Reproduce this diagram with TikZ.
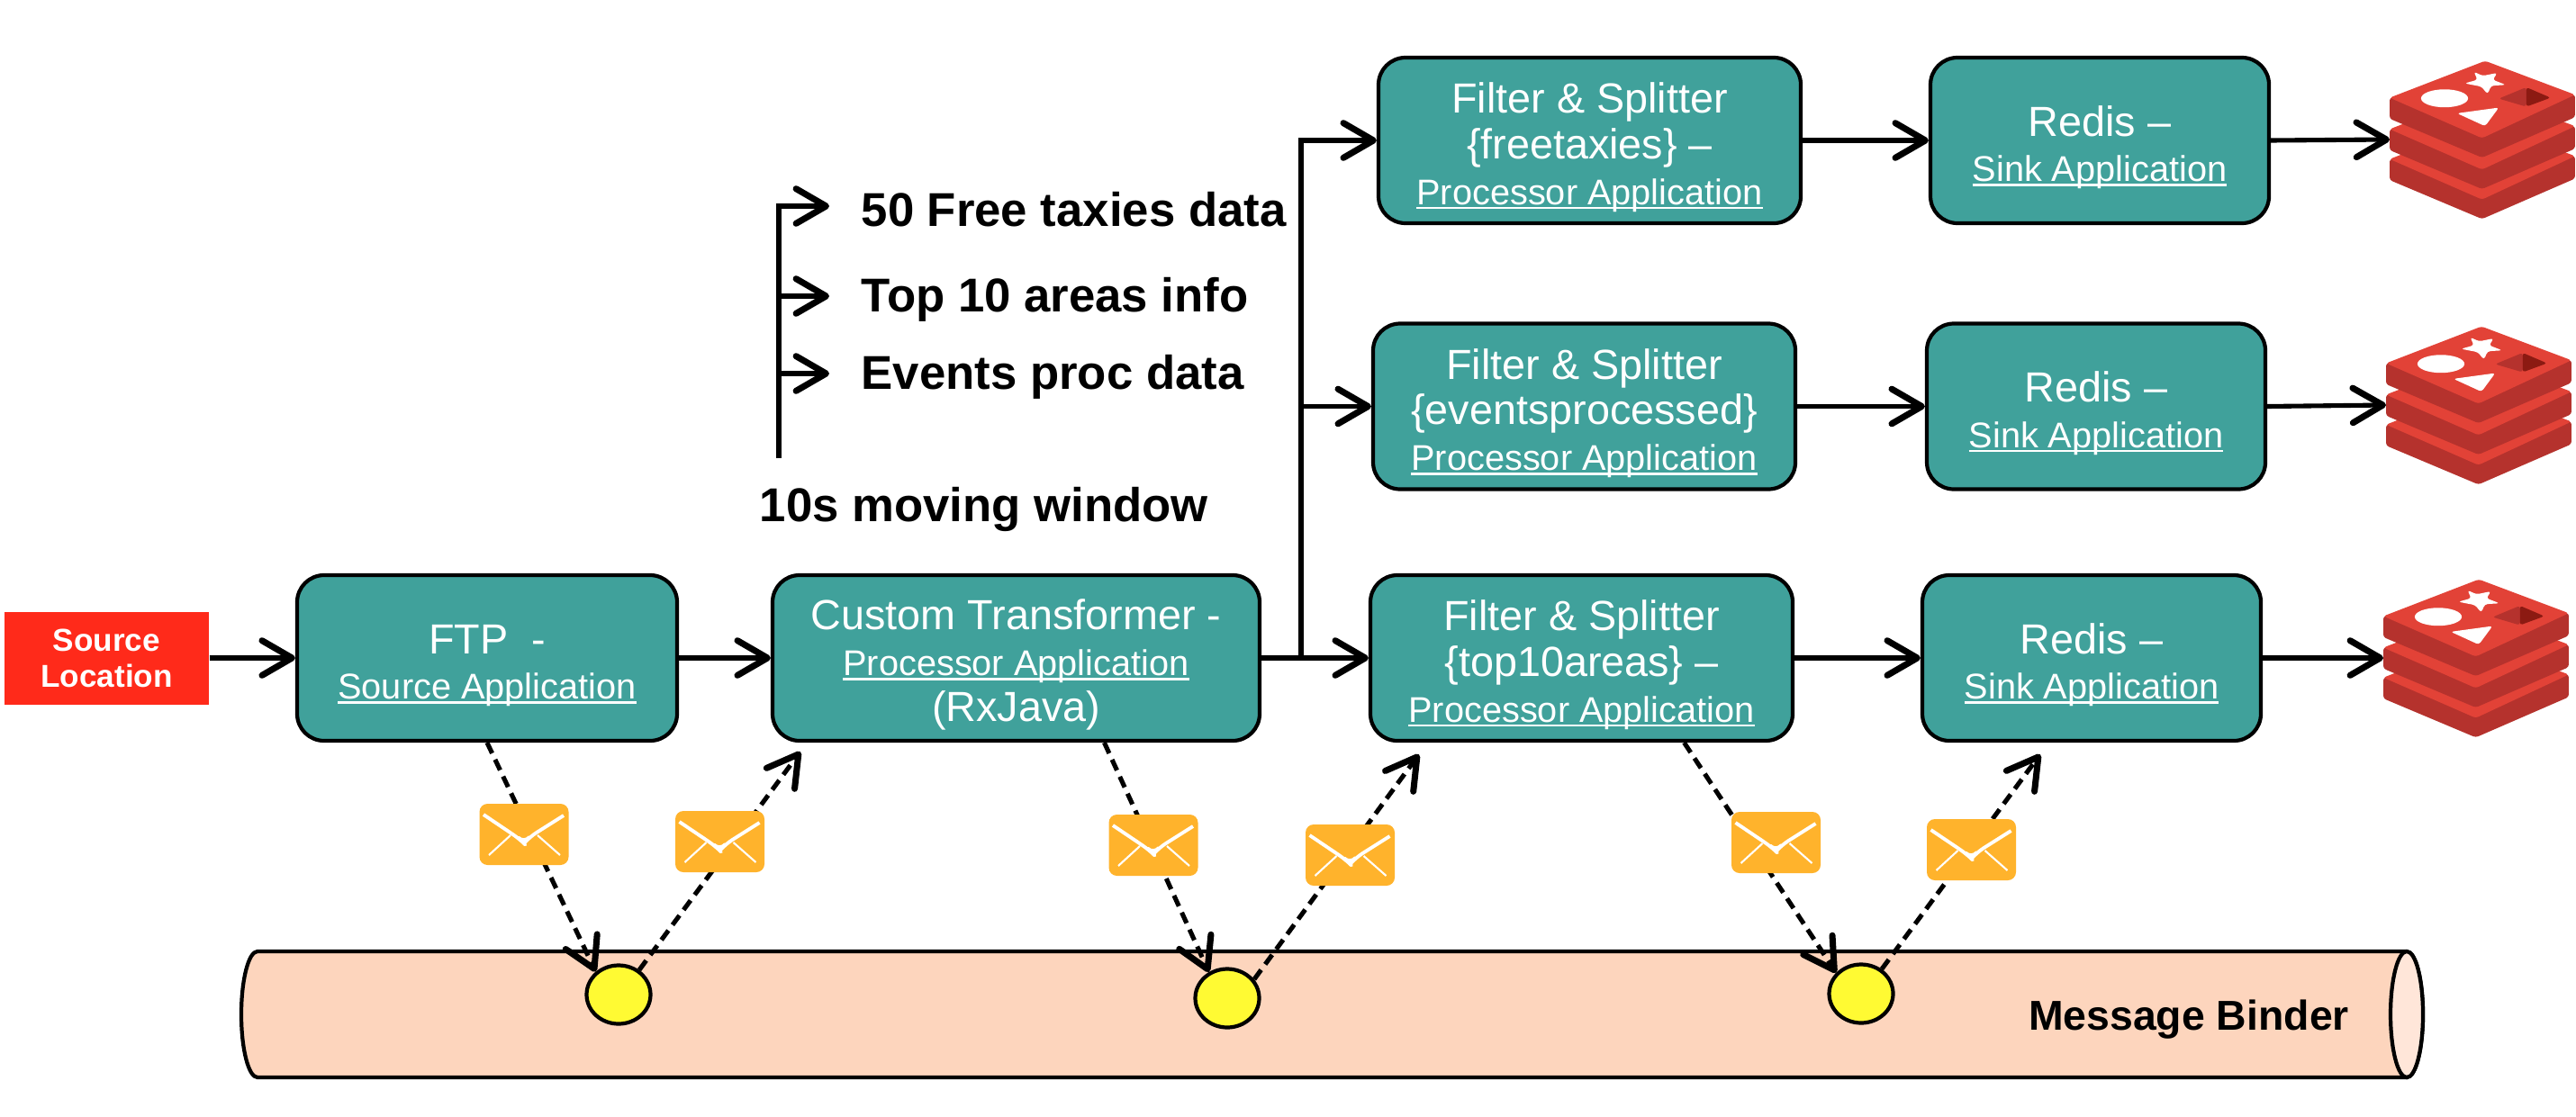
\documentclass[tikz,border=0pt]{standalone}
\usepackage{fontspec}
\setmainfont{Liberation Sans}
\usetikzlibrary{arrows.meta,shapes.geometric}

\definecolor{appteal}{HTML}{40A19B}
\definecolor{srcred}{HTML}{FF2A1A}
\definecolor{busfill}{HTML}{FDD5BD}
\definecolor{busend}{HTML}{FFE6D9}
\definecolor{dotyellow}{HTML}{FFFA33}
\definecolor{mailorange}{HTML}{FFB32C}
\definecolor{logolight}{HTML}{E24237}
\definecolor{logodark}{HTML}{B5322D}
\definecolor{logodeep}{HTML}{8C1A12}

\newcommand{\appname}[1]{{\fontsize{11.3}{14.5}\selectfont\setbox0\hbox{#1}\rlap{\rule[-1.4pt]{\wd0}{0.75pt}}\box0}}
\newcommand{\apptop}{\rule{0pt}{14pt}}

\tikzset{
    barb/.tip={Straight Barb[length=9.5pt,width=11pt,line width=2pt,round]},
    flow/.style={line width=1.45pt,-barb},
    msgline/.style={line width=1.45pt,-barb,dash pattern=on 3.7pt off 2.2pt},
    appbox/.style={draw,line width=1.2pt,fill=appteal,text=white,rounded corners=0.3cm,
        minimum height=1.84cm,inner sep=0pt,align=center,
        font=\fontsize{13.3}{14.5}\selectfont},
    bigtext/.style={inner sep=0pt,anchor=west,font=\bfseries\fontsize{15}{18}\selectfont},
    dotnode/.style={draw,line width=1.2pt,fill=dotyellow,ellipse,inner sep=0pt,
        minimum width=0.71cm,minimum height=0.65cm},
    mailnode/.style={fill=mailorange,rounded corners=0.09cm,inner sep=0pt,
        minimum width=0.99cm,minimum height=0.68cm,
        path picture={
            \draw[white,line width=1.1pt,line join=round] ([shift={(-0.45,0.22)}]path picture bounding box.center)
                -- ++(0.40,-0.27) -- ++(0.05,-0.05) -- ++(0.06,0.07) -- ++(0.38,0.24);
            \draw[white,line width=0.6pt] ([shift={(-0.39,-0.23)}]path picture bounding box.center) -- ++(0.24,0.22);
            \draw[white,line width=0.6pt] ([shift={(0.40,-0.23)}]path picture bounding box.center) -- ++(-0.25,0.22);
        }},
    redislogo/.pic={
        \begin{scope}[x=0.00338cm,y=-0.00333cm,rounded corners=0.03cm]
            \foreach \dy in {205,105,0}
            {\fill[logodark,yshift=-\dy*0.00333cm] (0,125) -- (0,195) -- (303,325) -- (608,190) -- (608,115) -- cycle;
            \fill[logolight,yshift=-\dy*0.00333cm] (0,125) -- (313,2) -- (608,115) -- (303,260) -- cycle;}
            \fill[white] (180,127) ellipse[x radius=77,y radius=30];
            \fill[white] (221,177) -- (358,158) -- (313,220) -- cycle;
            \fill[white] (276,38) -- (305,52) -- (353,42) -- (338,65) -- (381,82) -- (333,85)
                -- (321,113) -- (301,88) -- (246,77) -- (288,65) -- cycle;
            \fill[logodark] (358,128) -- (448,90) -- (448,155) -- cycle;
            \fill[logodeep] (448,90) -- (528,125) -- (448,155) -- cycle;
        \end{scope}
    }
}

\begin{document}
\begin{tikzpicture}
    \useasboundingbox (0,0) rectangle (28.61,12.4);

    % message binder
    \draw[line width=1.2pt,fill=busfill] (26.73,1.83) -- (2.86,1.83)
        arc[start angle=90,end angle=270,x radius=0.18,y radius=0.70]
        -- (26.73,0.43) arc[start angle=-90,end angle=90,x radius=0.18,y radius=0.70];
    \draw[line width=1.2pt,fill=busend] (26.73,1.13) ellipse[x radius=0.18,y radius=0.70];
    \node[inner sep=0pt,font=\bfseries\fontsize{13.2}{15}\selectfont] (binder) at (24.31,1.07) {Message Binder};

    \node[dotnode] (dotA) at (6.87,1.35) {};
    \node[dotnode] (dotB) at (13.63,1.31) {};
    \node[dotnode] (dotC) at (20.67,1.36) {};

    % application boxes
    \node[fill=srcred,text=white,minimum width=2.27cm,minimum height=1.03cm,inner sep=0pt,align=center,
        font=\bfseries\fontsize{10}{11.4}\selectfont] (source) at (1.185,5.09) {Source\\Location};
    \node[appbox,minimum width=4.22cm] (ftp) at (5.41,5.09) {\apptop FTP~~-\\\appname{Source Application}};
    \node[appbox,minimum width=5.41cm] (custom) at (11.285,5.09) {\apptop Custom Transformer -\\\appname{Processor Application}\\(RxJava)};

    \foreach \nm/\fx/\rx/\y/\tag in {A/17.655/23.32/10.84/\{freetaxies\} --,
        B/17.595/23.28/7.885/\{eventsprocessed\},
        C/17.565/23.23/5.09/\{top10areas\} --}
    {\node[appbox,minimum width=4.69cm] (filter\nm) at (\fx,\y) {\apptop Filter \& Splitter\\\tag\\\appname{Processor Application}};
    \node[appbox,minimum width=3.76cm] (redis\nm) at (\rx,\y) {\apptop Redis --\\\appname{Sink Application}};
    \draw[flow] (filter\nm.east) -- (redis\nm.west);}

    \foreach \nm/\x/\y in {A/26.54/11.73,B/26.50/8.78,C/26.47/5.97}
    {\pic at (\x,\y) {redislogo};
    \coordinate (logo\nm) at (\x,\y-0.88);
    \draw[flow] (redis\nm.east) -- (logo\nm);}

    \draw[flow] (source.east) -- (ftp.west);
    \draw[flow] (ftp.east) -- (custom.west);
    \draw[flow] (custom.east) -- (filterC.west);
    \coordinate (branch) at (14.45,5.09);
    \draw[flow] (branch) |- (filterA.west);
    \draw[flow] (branch |- filterB.west) -- (filterB.west);

    % moving window
    \node[bigtext] (window) at (8.43,6.74) {10s moving window};
    \node[bigtext] (lblA) at (9.56,10.07) {50 Free taxies data};
    \node[bigtext] (lblB) at (9.56,9.07) {Top 10 areas info};
    \node[bigtext] (lblC) at (9.56,8.21) {Events proc data};
    \coordinate (stem) at (8.65,7.31);
    \coordinate (tipA) at ([shift={(-0.35,0.04)}]lblA.west);
    \draw[flow] (stem) |- (tipA);
    \foreach \nm in {B,C}
    {\coordinate (tip\nm) at ([shift={(-0.35,0.04)}]lbl\nm.west);
    \draw[flow] (stem |- tip\nm) -- (tip\nm);}

    % messages through the binder
    \draw[msgline] (ftp.south) -- (dotA.135);
    \draw[msgline] (dotA.50) -- ([shift={(0.33,-0.10)}]custom.south west);
    \draw[msgline] ([xshift=0.98cm]custom.south) -- (dotB.125);
    \draw[msgline] (dotB.35) -- ([shift={(0.56,-0.13)}]filterC.south west);
    \draw[msgline] ([xshift=1.14cm]filterC.south) -- (dotC.140);
    \draw[msgline] (dotC.50) -- ([shift={(1.33,-0.13)}]redisC.south west);

    \foreach \nm/\x/\y in {A/5.82/3.13,B/7.995/3.05,C/12.81/3.01,D/14.995/2.90,E/19.725/3.04,F/21.895/2.96}
    {\node[mailnode] (mail\nm) at (\x,\y) {};}
\end{tikzpicture}
\end{document}
